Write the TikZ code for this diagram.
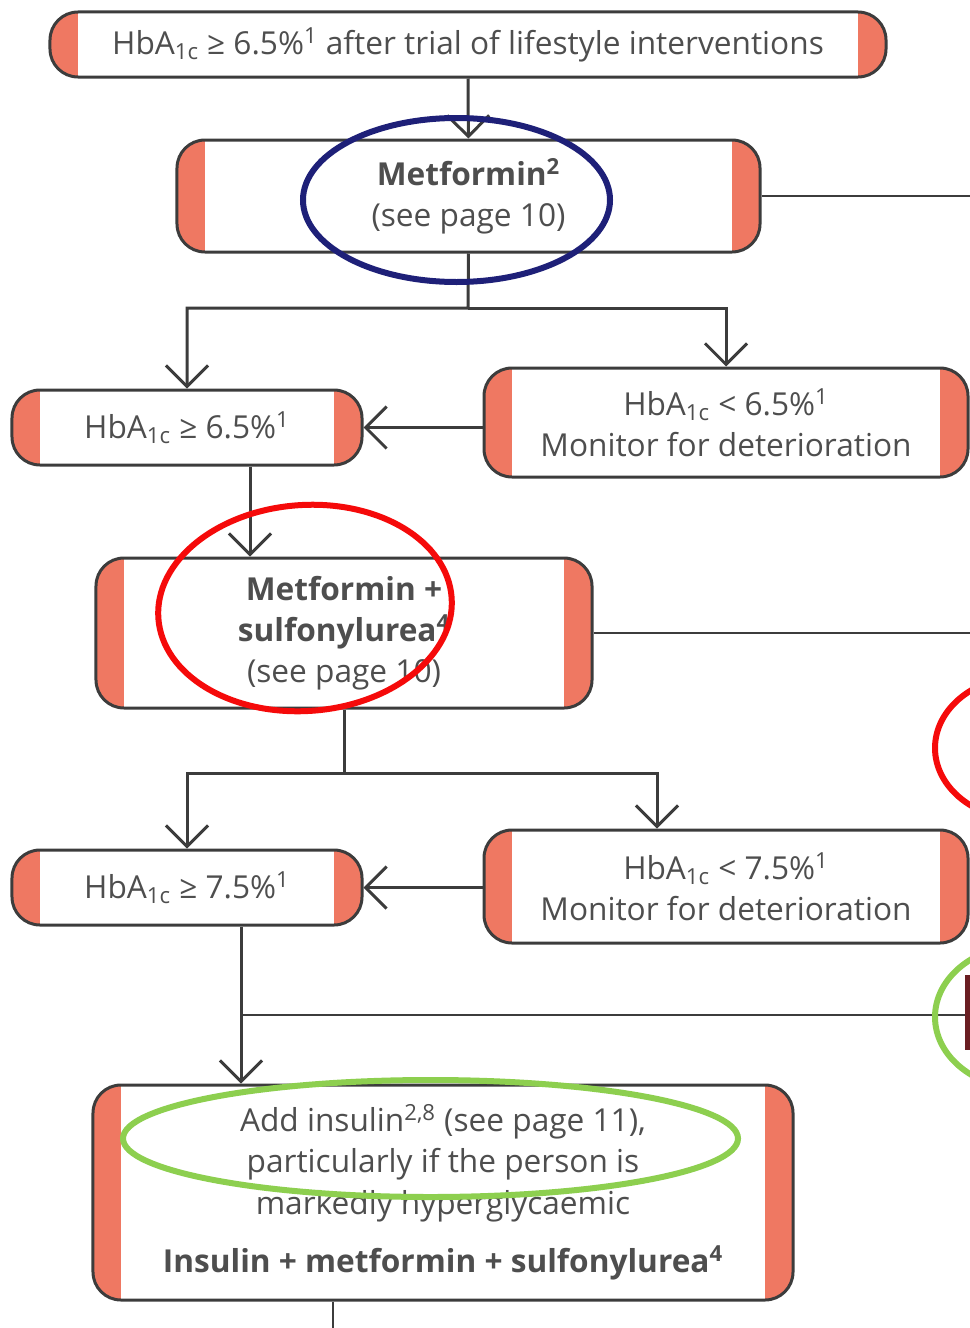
\documentclass[tikz,border=0pt]{standalone}
\usepackage{fontspec}
\setmainfont{Open Sans}
\usepackage{tikz}
\usetikzlibrary{arrows.meta}
\definecolor{linec}{HTML}{3C3C3C}
\definecolor{capc}{HTML}{EF7862}
\definecolor{txtc}{HTML}{4E4E4E}
\definecolor{navyc}{HTML}{1E2078}
\definecolor{redc}{HTML}{F50A0A}
\definecolor{greenc}{HTML}{8DCF4F}
\definecolor{barc}{HTML}{6A1E22}
\newcommand{\hba}{HbA\textsubscript{1c}}
\tikzset{
  ar/.style={-{Straight Barb[length=4.2mm,width=8.4mm]},line width=0.6mm,linec},
  ln/.style={line width=0.5mm,linec},
  box/.style={draw=linec,line width=0.6mm,rounded corners=5.6mm,fill=white,align=center,text=txtc,inner sep=0pt,
    font=\fontsize{18pt}{23.5pt}\selectfont,
    path picture={\fill[capc,sharp corners] (path picture bounding box.south west) rectangle ([xshift=5.6mm]path picture bounding box.north west);
      \fill[capc,sharp corners] (path picture bounding box.south east) rectangle ([xshift=-5.6mm]path picture bounding box.north east);}},
  hl/.style={line width=1.2mm}
}
\begin{document}
\begin{tikzpicture}[x=0.2mm,y=-0.2mm]
\useasboundingbox (0,0) rectangle (970,1328);
\node[box,minimum width=167.2mm,minimum height=13mm] (top) at (468,44.5) {\hba{} ≥ 6.5\%\textsuperscript{1} after trial of lifestyle interventions};
\node[box,minimum width=116.6mm,minimum height=22.4mm] (met) at (468.5,196) {\textbf{Metformin\textsuperscript{2}}\\(see page 10)};
\node[box,minimum width=70mm,minimum height=15mm] (hbA) at (187,427.5) {\hba{} ≥ 6.5\%\textsuperscript{1}};
\node[box,minimum width=96.8mm,minimum height=21.8mm] (mon1) at (726,422.5) {\hba{} < 6.5\%\textsuperscript{1}\\Monitor for deterioration};
\node[box,minimum width=99.2mm,minimum height=30mm] (metsu) at (344,633) {\textbf{Metformin +}\\\textbf{sulfonylurea\textsuperscript{4}}\\(see page 10)};
\node[box,minimum width=70mm,minimum height=15mm] (hbB) at (187,887.5) {\hba{} ≥ 7.5\%\textsuperscript{1}};
\node[box,minimum width=96.8mm,minimum height=22.6mm] (mon2) at (726,886.5) {\hba{} < 7.5\%\textsuperscript{1}\\Monitor for deterioration};
\node[box,minimum width=140mm,minimum height=43mm] (ins) at (443,1192.5) {Add insulin\textsuperscript{2,8} (see page 11),\\particularly if the person is\\markedly hyperglycaemic\\[10pt]\textbf{Insulin + metformin + sulfonylurea\textsuperscript{4}}};
\coordinate (s1) at (468,308);
\coordinate (s2) at (344,773);
\coordinate (d1) at (250,500);
\coordinate (d2) at (657,800);
\coordinate (d3) at (241,1015);
\coordinate (d4) at (333,1328);
\coordinate (e1) at (970,196);
\coordinate (e2) at (970,633);
\coordinate (e3) at (970,1015);
\draw[ar] (top) -- (met);
\draw[ar] (met.south) -- (s1) -| (hbA.north);
\draw[ar] (s1) -| (mon1.north);
\draw[ar] (mon1.west |- hbA.east) -- (hbA.east);
\draw[ar] (hbA.south -| d1) -- (metsu.north -| d1);
\draw[ar] (metsu.south) -- (s2) -| (hbB.north);
\draw[ar] (s2) -| (mon2.north -| d2);
\draw[ar] (mon2.west |- hbB.east) -- (hbB.east);
\draw[ar] (hbB.south -| d3) -- (ins.north -| d3);
\draw[ln] (d3) -- (e3);
\draw[ln] (met.east) -- (e1);
\draw[ln] (metsu.east) -- (e2);
\draw[ln] (ins.south -| d4) -- (d4);
\fill[barc] (965,975) rectangle (970,1050);
\draw[hl,navyc] (456.5,200) ellipse [x radius=30.7mm,y radius=16.4mm];
\draw[hl,redc] (305,608) ellipse [x radius=29.4mm,y radius=20.6mm,rotate=4];
\draw[hl,redc] (1025,748) ellipse [x radius=18mm,y radius=14.4mm];
\draw[hl,greenc] (430.5,1138.5) ellipse [x radius=61.5mm,y radius=11.7mm];
\draw[hl,greenc] (1025,1017) ellipse [x radius=18mm,y radius=14.4mm];
\end{tikzpicture}
\end{document}
